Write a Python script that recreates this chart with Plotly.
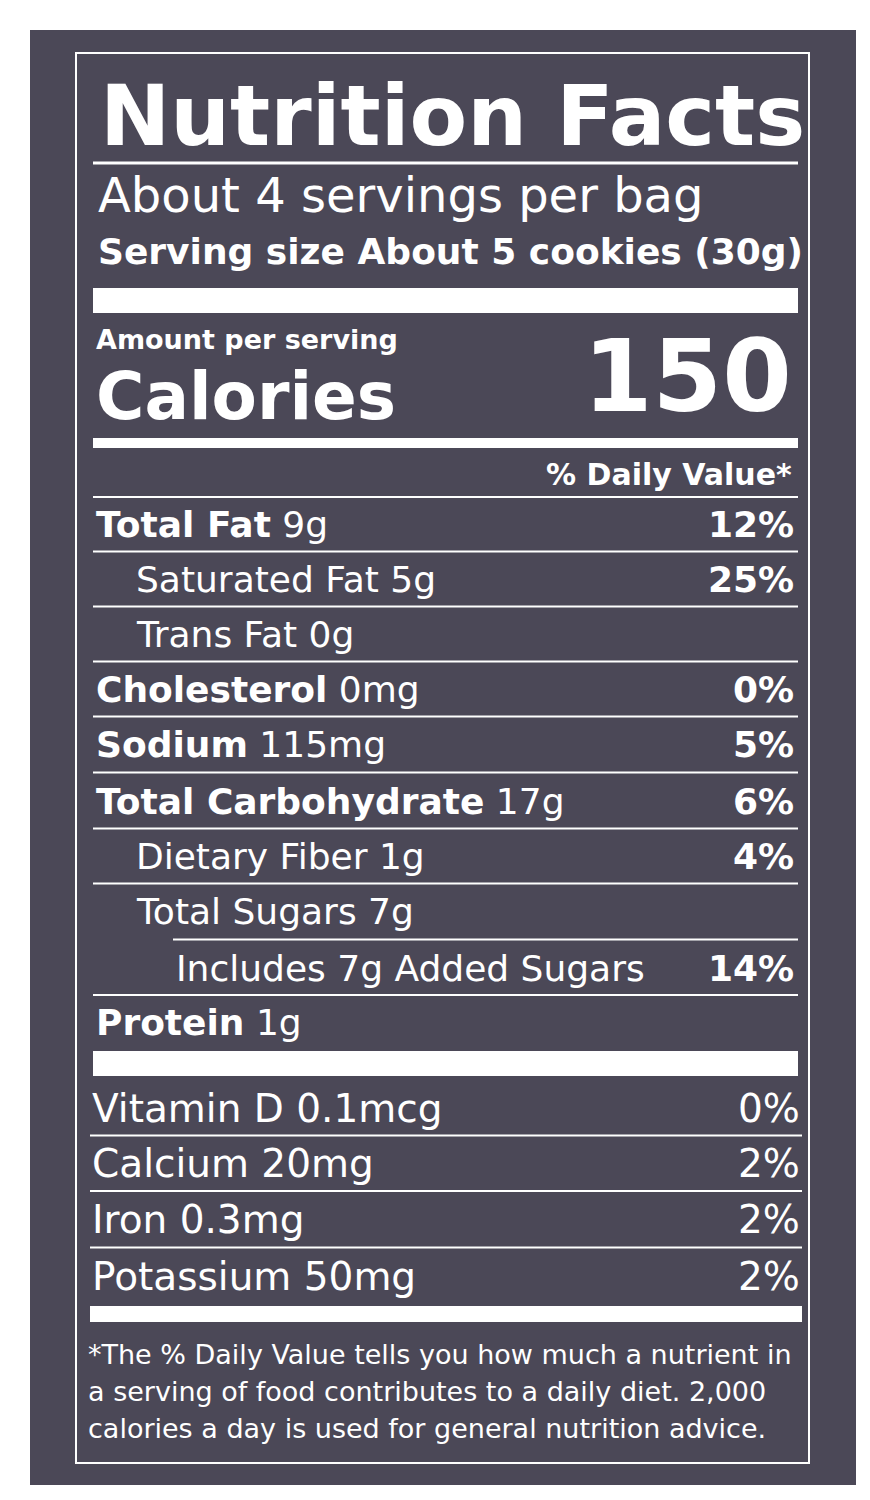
import plotly.graph_objects as go

title = "Nutrition Facts"
servings = "About 4 servings per bag"
serving_size = "Serving size About 5 cookies (30g)"
calories = "150"
nutrients = ["Total Fat", "Saturated Fat", "Trans Fat", "Cholesterol", "Sodium",
             "Total Carbohydrate", "Dietary Fiber", "Total Sugars", "Includes 7g Added Sugars", "Protein"]
amounts = ["9g", "5g", "0g", "0mg", "115mg", "17g", "1g", "7g", "", "1g"]
dv = ["12%", "25%", "", "0%", "5%", "6%", "4%", "", "14%", ""]
bold = [True, False, False, True, True, True, False, False, False, True]
indent = [0, 1, 1, 0, 0, 0, 1, 1, 2, 0]
vitamins = ["Vitamin D 0.1mcg", "Calcium 20mg", "Iron 0.3mg", "Potassium 50mg"]
vit_dv = ["0%", "2%", "2%", "2%"]
footnote = ["*The % Daily Value tells you how much a nutrient in",
            "a serving of food contributes to a daily diet. 2,000",
            "calories a day is used for general nutrition advice."]

BG = "#4b4857"
W = "white"
F = "DejaVu Sans"
fig = go.Figure()
shapes = []
ann = []

def rect(x0, y0, x1, y1, color=W, line=None):
    shapes.append(dict(type="rect", x0=x0, x1=x1, y0=y0, y1=y1, fillcolor=color,
                       line=dict(width=0) if line is None else line, layer="below"))

def hline(y, x0=85, x1=790, w=2):
    shapes.append(dict(type="line", x0=x0, x1=x1, y0=y, y1=y, line=dict(color=W, width=w)))

def text(x, y, s, size, anchor="left"):
    ann.append(dict(x=x, y=y, text=s, showarrow=False, xanchor=anchor, yanchor="middle",
                    font=dict(family=F, size=size, color=W)))

rect(22, 22, 848, 1477, BG)
shapes.append(dict(type="rect", x0=68, x1=801, y0=45, y1=1455, line=dict(color=W, width=2)))

text(90, 108, "<b>" + title + "</b>", 84)
hline(155, 85, 790, 3)
text(88, 187, servings, 48)
text(88, 243, "<b>" + serving_size + "</b>", 36)
rect(85, 280, 790, 305)
text(86, 331, "<b>Amount per serving</b>", 27)
text(86, 388, "<b>Calories</b>", 66)
text(786, 368, "<b>" + calories + "</b>", 100, "right")
rect(85, 430, 790, 440)
text(786, 466, "<b>% Daily Value*</b>", 30, "right")
hline(489)

ys = [516, 571, 626, 681, 736, 793, 848, 903, 960, 1014]
xs = [86, 126, 166]
for i, n in enumerate(nutrients):
    s = ("<b>%s</b>" % n) if bold[i] else n
    if amounts[i]:
        s += " " + amounts[i]
    text(xs[indent[i]], ys[i], s, 36)
    if dv[i]:
        text(788, ys[i], "<b>" + dv[i] + "</b>", 36, "right")
    if i < len(nutrients) - 1:
        hline((ys[i] + ys[i + 1]) / 2, 165 if i == 7 else 85)
rect(85, 1043, 790, 1068)

vy = [1100, 1155, 1211, 1268]
for i, v in enumerate(vitamins):
    text(82, vy[i], v, 39)
    text(794, vy[i], vit_dv[i], 39, "right")
    if i < len(vitamins) - 1:
        hline((vy[i] + vy[i + 1]) / 2, 82, 794)
rect(82, 1298, 794, 1314)
for i, f in enumerate(footnote):
    text(78, 1346 + i * 37, f, 27)

fig.update_layout(width=870, height=1500, margin=dict(l=0, r=0, t=0, b=0),
                  paper_bgcolor="white", plot_bgcolor="white", shapes=shapes, annotations=ann,
                  xaxis=dict(range=[0, 870], visible=False, fixedrange=True),
                  yaxis=dict(range=[1500, 0], visible=False, fixedrange=True), showlegend=False)
fig.write_html("out.html")
